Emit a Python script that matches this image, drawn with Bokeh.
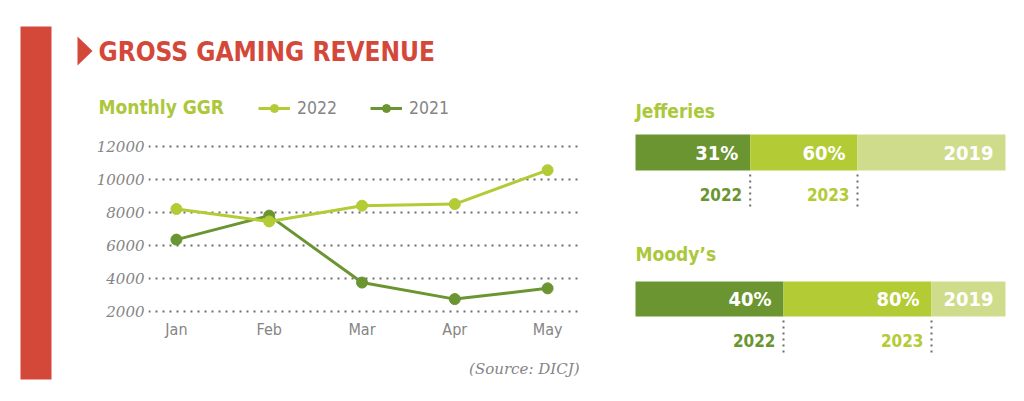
from bokeh.plotting import figure
from bokeh.models import Range1d, FixedTicker, Legend, LegendItem, ColumnDataSource
from bokeh.layouts import row, column
from bokeh.embed import file_html
from bokeh.resources import INLINE
from bokeh.core.properties import value

# ---------------- data ----------------
months = ["Jan", "Feb", "Mar", "Apr", "May"]
ggr_2022 = [8200, 7450, 8400, 8500, 10550]
ggr_2021 = [6350, 7800, 3750, 2750, 3400]
y_ticks = [2000, 4000, 6000, 8000, 10000, 12000]

forecasters = ["Jefferies", "Moody\u2019s"]
jefferies_cum = [31, 60, 100]
jefferies_labels = ["31%", "60%", "2019"]
moodys_cum = [40, 80, 100]
moodys_labels = ["40%", "80%", "2019"]
year_labels = ["2022", "2023"]

# ---------------- style ----------------
RED = "#d4483a"
DARK = "#6a9530"
MID = "#b3cb35"
LIGHT = "#cfdc8b"
TGREEN = "#abc73a"
GRAY = "#858585"
DOTS = "#6e6e6e"
COND = "DejaVu Sans Condensed"
SERIF = "DejaVu Serif"


def blank(width, height, x0, x1, y0, y1):
    f = figure(width=width, height=height, x_range=Range1d(x0, x1), y_range=Range1d(y1, y0),
               output_backend="svg", toolbar_location=None,
               x_axis_location=None, y_axis_location=None, min_border=0)
    f.grid.visible = False
    f.outline_line_color = None
    return f


# ---------------- red side bar ----------------
side = blank(93, 401, 0, 93, 0, 401)
side.quad(left=20, right=51, top=26, bottom=379, color=RED, line_color=None)
side.patch(x=[77, 77, 92], y=[36, 65, 50.5], color=RED, line_color=None)

# ---------------- header ----------------
head = blank(527, 125, 93, 620, 0, 125)
head.text(x=[98], y=[51], text=["GROSS GAMING REVENUE"], text_font=value(COND),
          text_font_size=value("26px"), text_font_style="bold", text_color=RED,
          text_baseline="middle")
head.text(x=[98], y=[106], text=["Monthly GGR"], text_font=value(COND),
          text_font_size=value("19px"), text_font_style="bold", text_color=TGREEN,
          text_baseline="middle")
# legend proxies (lie outside the visible range)
h22 = head.line([0, 1], [-100, -100], color=MID, line_width=3)
h22d = head.scatter([0], [-100], size=9, color=MID)
h21 = head.line([0, 1], [-100, -100], color=DARK, line_width=3)
h21d = head.scatter([0], [-100], size=9, color=DARK)
legend = Legend(items=[LegendItem(label="2022", renderers=[h22, h22d]),
                       LegendItem(label="2021", renderers=[h21, h21d])],
                location=(165, 7), orientation="horizontal",
                glyph_width=32, glyph_height=20, label_height=20, label_standoff=7,
                spacing=33, padding=0, margin=0, border_line_color=None,
                background_fill_alpha=0, label_text_font=COND,
                label_text_font_size="17.5px", label_text_color=GRAY)
head.add_layout(legend)

# ---------------- line chart ----------------
p = figure(width=527, height=220, x_range=Range1d(-0.301, 4.333), y_range=Range1d(1577, 12405),
           output_backend="svg", toolbar_location=None,
           min_border_left=54, min_border_right=42, min_border_top=14, min_border_bottom=27)
p.outline_line_color = None
p.xgrid.visible = False
p.xaxis.ticker = FixedTicker(ticks=list(range(len(months))))
p.xaxis.major_label_overrides = {i: m for i, m in enumerate(months)}
p.yaxis.ticker = FixedTicker(ticks=y_ticks)
for ax in (p.xaxis, p.yaxis):
    ax.axis_line_color = None
    ax.major_tick_line_color = None
    ax.minor_tick_line_color = None
    ax.major_tick_out = 0
    ax.major_tick_in = 0
    ax.minor_tick_out = 0
p.xaxis.major_label_standoff = 1
p.xaxis.major_label_text_font = COND
p.xaxis.major_label_text_font_size = "16px"
p.xaxis.major_label_text_color = GRAY
p.yaxis.major_label_standoff = 4
p.yaxis.major_label_text_font = SERIF
p.yaxis.major_label_text_font_style = "italic"
p.yaxis.major_label_text_font_size = "15px"
p.yaxis.major_label_text_color = GRAY
p.ygrid.grid_line_color = DOTS
p.ygrid.grid_line_width = 2
p.ygrid.grid_line_dash = "2 5"

src = ColumnDataSource(dict(x=list(range(len(months))), y22=ggr_2022, y21=ggr_2021))
p.line("x", "y21", source=src, color=DARK, line_width=3)
p.scatter("x", "y21", source=src, size=11, color=DARK)
p.line("x", "y22", source=src, color=MID, line_width=3)
p.scatter("x", "y22", source=src, size=11, color=MID)

# ---------------- footer ----------------
foot = blank(527, 56, 93, 620, 345, 401)
foot.text(x=[579], y=[368], text=["(Source: DICJ)"], text_font=value(SERIF),
          text_font_size=value("15px"), text_font_style="italic", text_color=GRAY,
          text_align="right", text_baseline="middle")

# ---------------- right: stacked bars ----------------
# x: percent of 2019 level (0 -> page x 635, 100 -> page x 1005); y: pixel rows
r = blank(404, 401, -15 / 3.7, 100 + 19 / 3.7, 0, 401)
rows = [dict(title_y=110, bar_y=152, bar_h=36, year_y=194, tick=(174, 206)),
        dict(title_y=253, bar_y=298.5, bar_h=35, year_y=340, tick=(320, 355))]
for name, cum, labels, lay in zip(forecasters, [jefferies_cum, moodys_cum],
                                  [jefferies_labels, moodys_labels], rows):
    starts = [0] + cum[:-1]
    r.hbar(y=[lay["bar_y"]] * len(cum), left=starts, right=cum, height=lay["bar_h"],
           color=[DARK, MID, LIGHT], line_color=None)
    r.text(x=cum, y=[lay["bar_y"]] * len(cum), text=labels, x_offset=-12,
           text_align="right", text_baseline="middle", text_color="white",
           text_font=value(COND), text_font_size=value("20px"), text_font_style="bold")
    n = len(year_labels)
    r.segment(x0=cum[:n], x1=cum[:n], y0=[lay["tick"][0]] * n, y1=[lay["tick"][1]] * n,
              line_color=DOTS, line_width=2, line_dash="2 4")
    r.text(x=cum[:n], y=[lay["year_y"]] * n, text=year_labels, x_offset=-8,
           text_align="right", text_baseline="middle", text_color=[DARK, MID],
           text_font=value(COND), text_font_size=value("17px"), text_font_style="bold")
    r.text(x=[0], y=[lay["title_y"]], text=[name], text_align="left",
           text_baseline="middle", text_color=TGREEN, text_font=value(COND),
           text_font_size=value("19px"), text_font_style="bold")

middle = column(row(head, spacing=0), row(p, spacing=0), row(foot, spacing=0), spacing=0)
layout = row(side, middle, r, spacing=0)
open("out.html", "w").write(file_html(layout, INLINE))
